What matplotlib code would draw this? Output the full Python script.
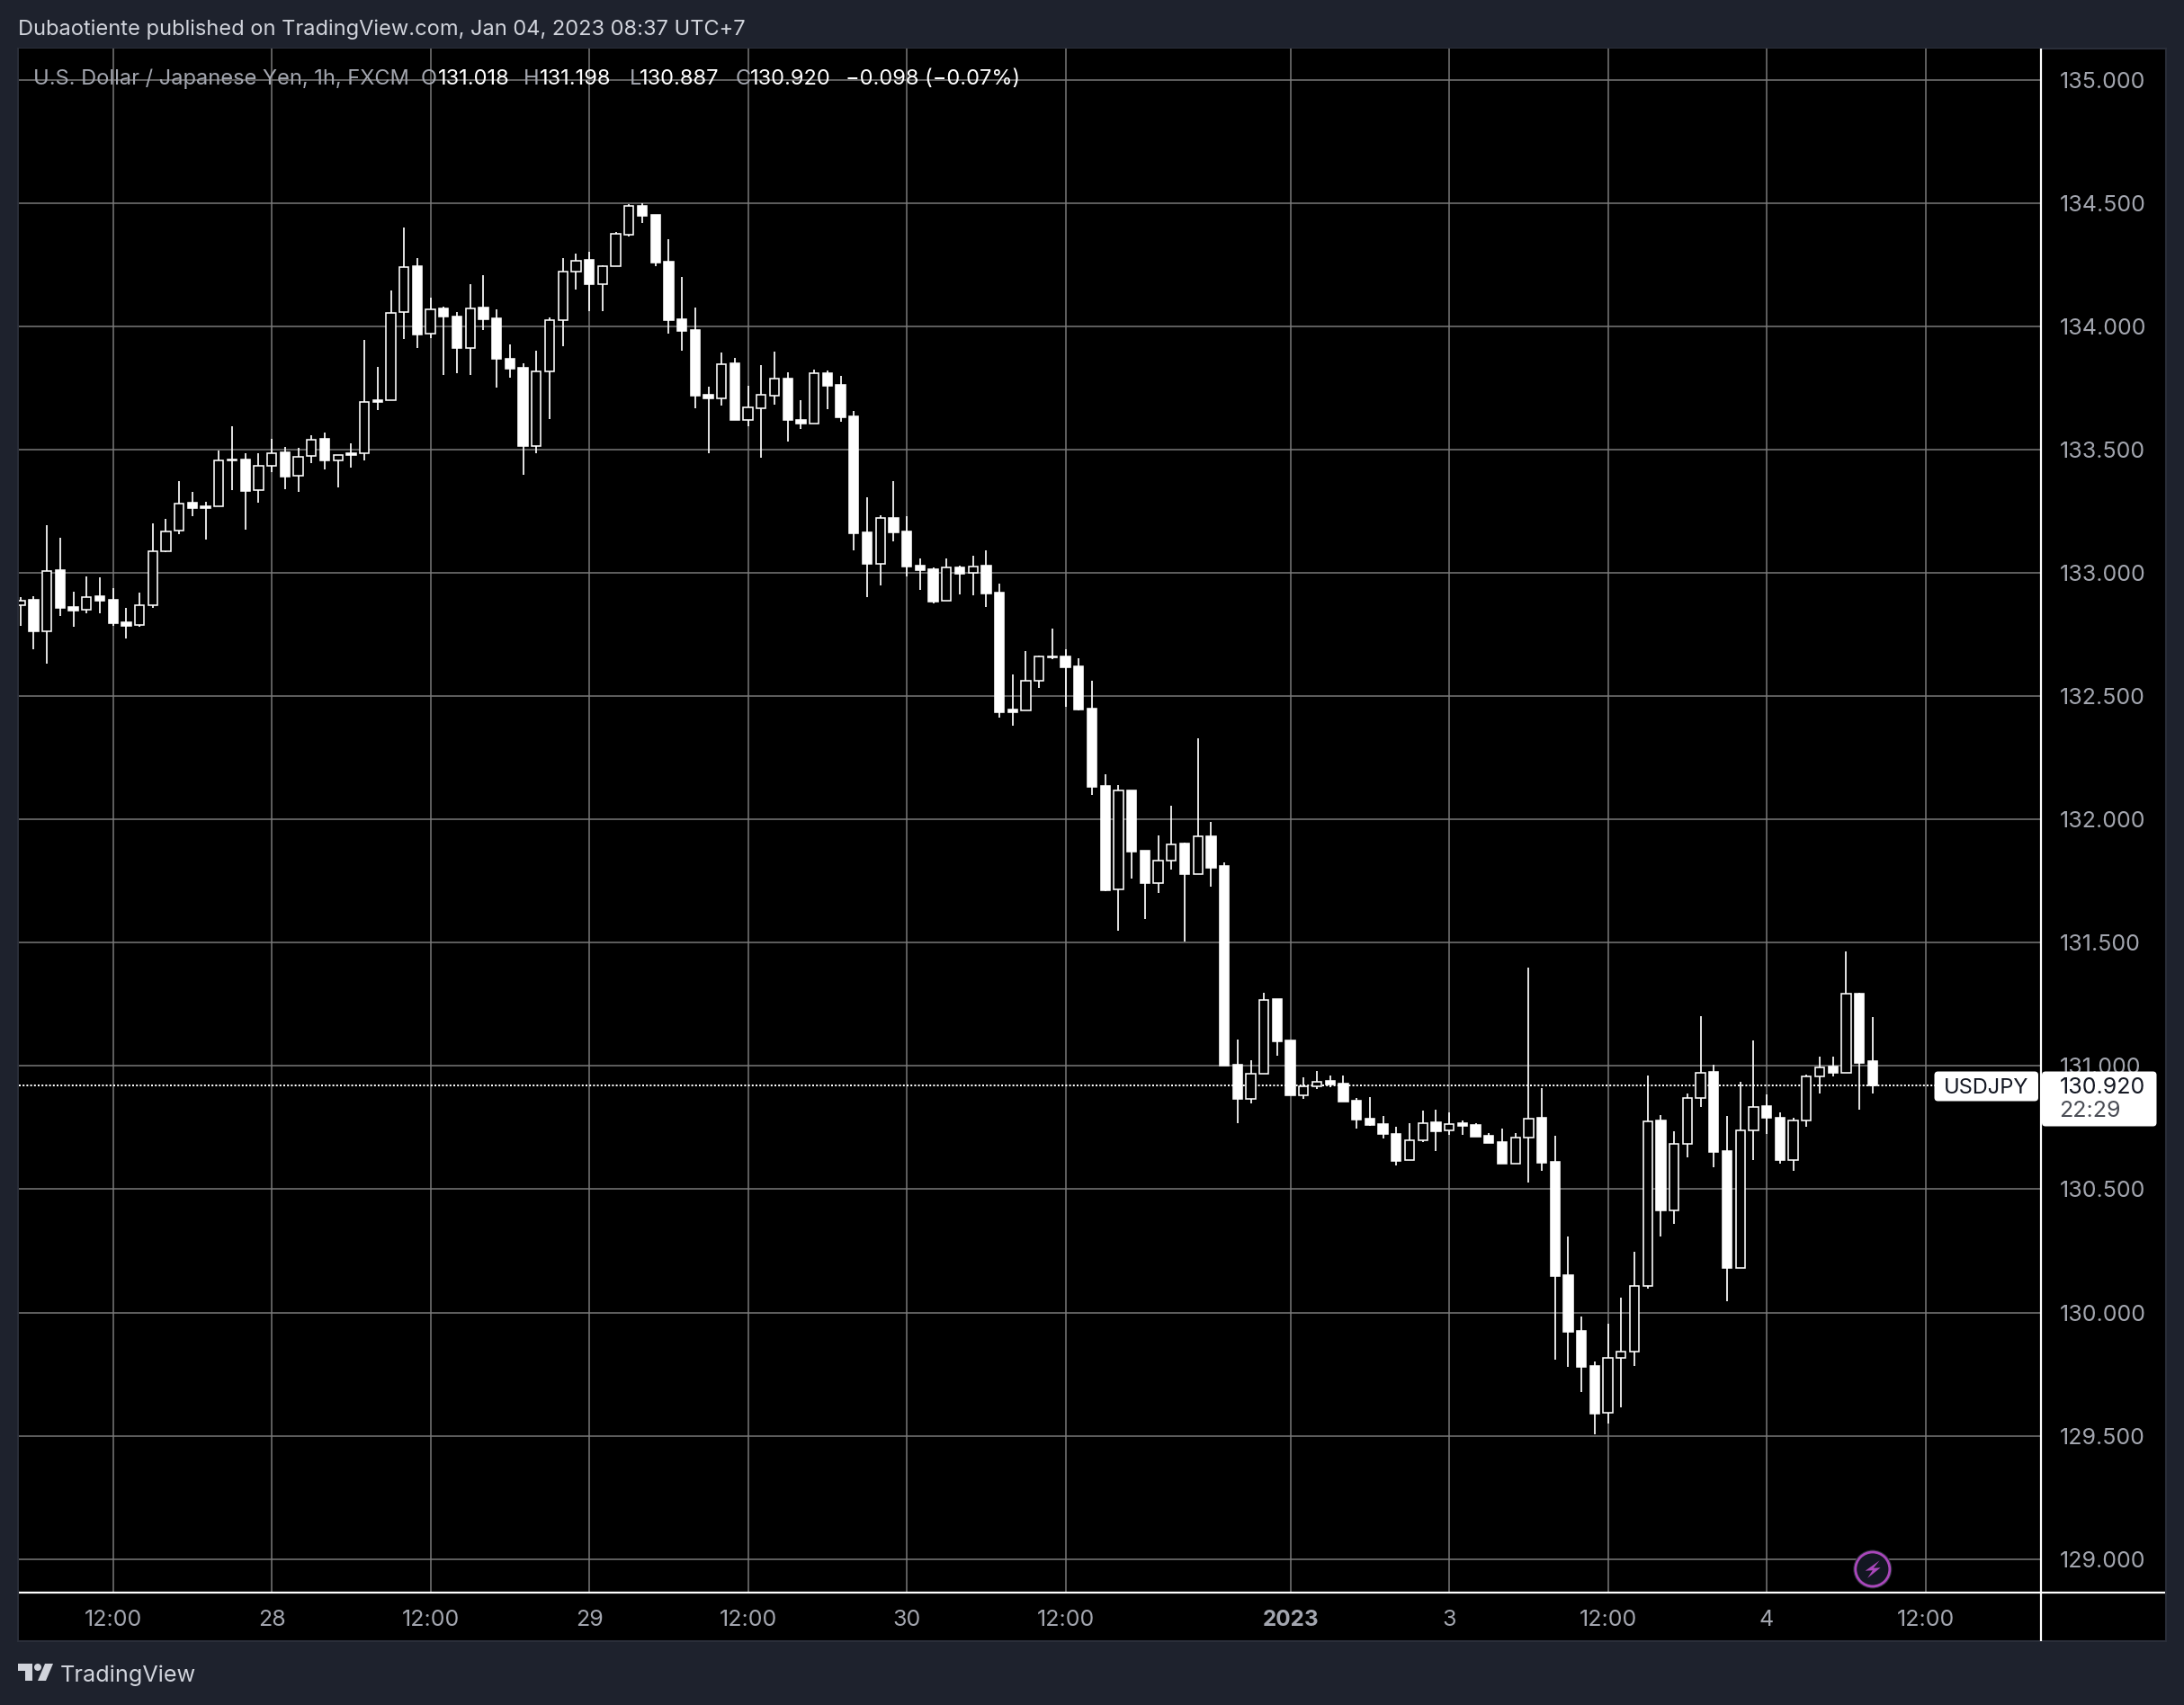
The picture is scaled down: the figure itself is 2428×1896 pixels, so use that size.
#!/usr/bin/env python3
"""USD/JPY 1h candles, dark TradingView snapshot."""
import numpy as np
import matplotlib
matplotlib.use("Agg")
import matplotlib.pyplot as plt
from matplotlib.patches import Circle, FancyBboxPatch, Polygon, Rectangle

plt.rcParams["font.family"] = ["Inter", "DejaVu Sans"]

W, H = 2428, 1896
PAGE = "#1e222d"
BORDER = "#2a2e39"
GRID = "#7b7b7b"
LABEL = "#a3a6af"
HEAD = "#d1d4dc"

opens = [
    132.868, 132.890, 132.761, 133.010, 132.861, 132.849, 132.904, 132.890, 132.798, 132.787,
    132.870, 133.089, 133.170, 133.283, 133.269, 133.269, 133.460, 133.459, 133.334, 133.433,
    133.489, 133.393, 133.473, 133.544, 133.455, 133.485, 133.484, 133.699, 133.699, 134.057,
    134.243, 133.969, 134.073, 134.038, 133.911, 134.075, 134.032, 133.868, 133.832, 133.515,
    133.816, 134.026, 134.222, 134.269, 134.172, 134.242, 134.372, 134.488, 134.452, 134.262,
    134.028, 133.984, 133.722, 133.709, 133.850, 133.618, 133.669, 133.720, 133.787, 133.619,
    133.606, 133.810, 133.763, 133.635, 133.163, 133.037, 133.222, 133.167, 133.029, 133.015,
    132.885, 133.021, 132.998, 133.029, 132.920, 132.446, 132.443, 132.561, 132.662, 132.661,
    132.621, 132.449, 132.136, 131.715, 132.117, 131.873, 131.743, 131.834, 131.902, 131.779,
    131.931, 131.810, 131.004, 130.867, 130.969, 131.271, 131.103, 130.882, 130.916, 130.938,
    130.928, 130.859, 130.786, 130.764, 130.724, 130.620, 130.700, 130.771, 130.737, 130.766,
    130.759, 130.715, 130.690, 130.605, 130.710, 130.789, 130.611, 130.151, 129.924, 129.782,
    129.592, 129.816, 129.842, 130.109, 130.777, 130.415, 130.685, 130.870, 130.975, 130.654,
    130.181, 130.740, 130.836, 130.789, 130.618, 130.779, 130.958, 130.996, 130.973, 131.294,
    131.018,
]
closes = [
    132.887, 132.761, 133.008, 132.858, 132.848, 132.903, 132.888, 132.797, 132.786, 132.870,
    133.089, 133.169, 133.282, 133.264, 133.264, 133.456, 133.454, 133.333, 133.432, 133.486,
    133.391, 133.472, 133.541, 133.454, 133.479, 133.479, 133.694, 133.694, 134.054, 134.241,
    133.967, 134.070, 134.038, 133.910, 134.073, 134.030, 133.866, 133.829, 133.515, 133.815,
    134.026, 134.222, 134.267, 134.170, 134.242, 134.374, 134.487, 134.449, 134.258, 134.025,
    133.982, 133.720, 133.708, 133.847, 133.618, 133.670, 133.721, 133.786, 133.618, 133.605,
    133.808, 133.759, 133.631, 133.161, 133.036, 133.221, 133.163, 133.025, 133.011, 132.883,
    133.020, 132.997, 133.027, 132.916, 132.436, 132.436, 132.561, 132.660, 132.657, 132.618,
    132.446, 132.133, 131.713, 132.116, 131.869, 131.742, 131.834, 131.900, 131.778, 131.930,
    131.804, 131.001, 130.866, 130.970, 131.268, 131.099, 130.880, 130.916, 130.936, 130.925,
    130.855, 130.782, 130.760, 130.724, 130.615, 130.699, 130.767, 130.736, 130.764, 130.758,
    130.713, 130.687, 130.604, 130.708, 130.786, 130.608, 130.147, 129.920, 129.779, 129.590,
    129.816, 129.842, 130.108, 130.775, 130.413, 130.684, 130.870, 130.973, 130.650, 130.179,
    130.738, 130.833, 130.789, 130.617, 130.779, 130.957, 130.994, 130.971, 131.292, 131.013,
    130.920,
]
highs = [
    132.900, 132.904, 133.192, 133.142, 132.922, 132.987, 132.983, 132.937, 132.856, 132.918,
    133.202, 133.217, 133.370, 133.327, 133.287, 133.494, 133.593, 133.484, 133.484, 133.545,
    133.509, 133.506, 133.557, 133.567, 133.479, 133.524, 133.945, 133.836, 134.144, 134.401,
    134.276, 134.116, 134.079, 134.057, 134.170, 134.207, 134.069, 133.925, 133.849, 133.901,
    134.035, 134.276, 134.294, 134.302, 134.247, 134.383, 134.495, 134.499, 134.452, 134.353,
    134.199, 134.075, 133.755, 133.893, 133.871, 133.759, 133.842, 133.897, 133.812, 133.700,
    133.823, 133.819, 133.799, 133.656, 133.307, 133.235, 133.372, 133.230, 133.058, 133.021,
    133.058, 133.028, 133.070, 133.090, 132.956, 132.588, 132.683, 132.664, 132.773, 132.690,
    132.653, 132.562, 132.183, 132.139, 132.117, 131.873, 131.935, 132.055, 131.906, 132.329,
    131.990, 131.825, 131.107, 131.023, 131.296, 131.271, 131.103, 130.953, 130.979, 130.961,
    130.961, 130.870, 130.873, 130.797, 130.753, 130.769, 130.818, 130.822, 130.810, 130.777,
    130.767, 130.727, 130.745, 130.727, 131.397, 130.909, 130.715, 130.307, 129.983, 129.800,
    129.954, 130.059, 130.248, 130.960, 130.799, 130.734, 130.887, 131.201, 131.004, 130.796,
    130.934, 131.103, 130.884, 130.811, 130.788, 130.964, 131.037, 131.037, 131.465, 131.298,
    131.198,
]
lows = [
    132.786, 132.690, 132.633, 132.826, 132.782, 132.836, 132.836, 132.786, 132.735, 132.782,
    132.858, 133.083, 133.158, 133.230, 133.136, 133.269, 133.337, 133.176, 133.286, 133.410,
    133.340, 133.329, 133.446, 133.420, 133.347, 133.428, 133.454, 133.661, 133.699, 133.949,
    133.912, 133.953, 133.803, 133.811, 133.803, 133.985, 133.752, 133.793, 133.399, 133.486,
    133.625, 133.920, 134.147, 134.062, 134.062, 134.242, 134.362, 134.420, 134.245, 133.971,
    133.902, 133.669, 133.486, 133.679, 133.618, 133.596, 133.468, 133.683, 133.533, 133.584,
    133.606, 133.665, 133.614, 133.092, 132.903, 132.950, 133.128, 132.985, 132.931, 132.877,
    132.885, 132.913, 132.909, 132.862, 132.414, 132.381, 132.443, 132.534, 132.651, 132.458,
    132.442, 132.100, 131.707, 131.550, 131.761, 131.597, 131.703, 131.798, 131.506, 131.779,
    131.728, 131.001, 130.769, 130.849, 130.969, 131.041, 130.880, 130.867, 130.907, 130.915,
    130.855, 130.747, 130.756, 130.707, 130.597, 130.620, 130.691, 130.655, 130.721, 130.721,
    130.713, 130.687, 130.604, 130.605, 130.527, 130.575, 129.809, 129.779, 129.678, 129.506,
    129.550, 129.615, 129.783, 130.097, 130.308, 130.359, 130.630, 130.832, 130.590, 130.046,
    130.181, 130.618, 130.723, 130.603, 130.575, 130.754, 130.888, 130.958, 130.973, 130.822,
    130.887,
]

price_ticks = [129, 129.5, 130, 130.5, 131, 131.5, 132, 132.5, 133, 133.5, 134, 134.5, 135]
time_ticks = [7, 19, 31, 43, 55, 67, 79, 96, 108, 120, 132, 144]
time_labels = ["12:00", "28", "12:00", "29", "12:00", "30", "12:00", "2023", "3", "12:00", "4", "12:00"]

symbol_name = "USDJPY"
countdown = "22:29"
header = "Dubaotiente published on TradingView.com, Jan 04, 2023 08:37 UTC+7"
title = "U.S. Dollar / Japanese Yen, 1h, FXCM"


def px_box(x0, y0, x1, y1):
    return [x0 / W, 1 - y1 / H, (x1 - x0) / W, (y1 - y0) / H]


def draw_candles(ax):
    o, c = np.array(opens), np.array(closes)
    x = np.arange(len(o))
    up = c >= o
    lw = 1.15
    ax.vlines(x, lows, highs, color="white", lw=1.25, zorder=3)
    bottom = np.minimum(o, c)
    height = np.abs(c - o)
    ax.bar(x[up], height[up], bottom=bottom[up], width=0.7, facecolor="black",
           edgecolor="white", linewidth=lw, zorder=4)
    ax.bar(x[~up], height[~up], bottom=bottom[~up], width=0.7, facecolor="white",
           edgecolor="white", linewidth=lw, zorder=4)


def draw_chart(ax):
    ax.set_facecolor("black")
    ax.set_xlim(-0.15, 152.73)
    ax.set_ylim(128.864, 135.126)
    ax.yaxis.tick_right()
    ax.set_yticks(price_ticks)
    ax.set_yticklabels([f"{p:.3f}" for p in price_ticks])
    ax.set_xticks(time_ticks)
    ax.set_xticklabels(time_labels)
    ax.tick_params(axis="y", length=0, pad=15, labelsize=18, labelcolor=LABEL)
    ax.tick_params(axis="x", length=0, pad=13.5, labelsize=18, labelcolor=LABEL)
    for lab, txt in zip(ax.get_xticklabels(), time_labels):
        if txt == "2023":
            lab.set_fontweight("bold")
            lab.set_fontsize(17.5)
    ax.grid(True, color=GRID, lw=1.08, zorder=1)
    ax.set_axisbelow(True)
    for s in ax.spines.values():
        s.set_visible(False)
    ax.axhline(closes[-1], color="white", lw=1.44, ls=(0, (1, 1.1)), zorder=2)
    draw_candles(ax)


def draw_overlay(fg):
    fg.set_xlim(0, W)
    fg.set_ylim(H, 0)
    fg.axis("off")
    fg.patch.set_alpha(0)

    # axis rules
    fg.plot([20.5, 2407], [1771, 1771], color="white", lw=1.6, solid_capstyle="butt")
    fg.plot([2269, 2269], [54, 1825], color="white", lw=1.6, solid_capstyle="butt")

    # header and legend
    fg.text(20, 33, header, color=HEAD, fontsize=17, va="center")
    fg.text(37, 88, title, color=LABEL, fontsize=17, va="center")
    for letter, lx, val, vx in [("O", 468, opens[-1], 487), ("H", 582, highs[-1], 600),
                                ("L", 700, lows[-1], 711), ("C", 818, closes[-1], 834)]:
        fg.text(lx, 88, letter, color=LABEL, fontsize=17, va="center")
        fg.text(vx, 88, f"{val:.3f}", color="white", fontsize=17, va="center")
    chg = closes[-1] - opens[-1]
    fg.text(940, 88, f"\u2212{abs(chg):.3f} (\u2212{abs(chg) / opens[-1] * 100:.2f}%)",
            color="white", fontsize=17, va="center")

    # last price tags
    fg.add_patch(FancyBboxPatch((2150.5, 1191.5), 115.5, 33, boxstyle="round,pad=0,rounding_size=4",
                                fc="white", ec="none"))
    fg.add_patch(FancyBboxPatch((2270, 1191.5), 127.5, 61, boxstyle="round,pad=0,rounding_size=4",
                                fc="white", ec="none"))
    fg.text(2208, 1209.5, symbol_name, color="#131722", fontsize=17, ha="center", va="center")
    fg.text(2290, 1209.5, f"{closes[-1]:.3f}", color="#131722", fontsize=18, va="center")
    fg.text(2289, 1236, countdown, color="#4a4d55", fontsize=18, va="center")

    # replay badge
    fg.add_patch(Circle((2081.8, 1745), 21.5, fc=BORDER, ec="none"))
    fg.add_patch(Circle((2081.8, 1745), 19, fc="#131722", ec="#ab47bc", lw=2))
    fg.add_patch(Polygon([(2089.6, 1735.3), (2073.7, 1746.7), (2081.8, 1746.3), (2076.1, 1755),
                          (2090.6, 1743.3), (2082.8, 1743.7)], closed=True, fc="#ab47bc", ec="none"))

    # logo
    logo = "#d1d4dc"
    fg.add_patch(Polygon([(20, 1850), (36, 1850), (36, 1869), (28, 1869), (28, 1858), (20, 1858)],
                         closed=True, fc=logo, ec="none"))
    fg.add_patch(Circle((42, 1854), 4, fc=logo, ec="none"))
    fg.add_patch(Polygon([(50, 1850), (59, 1850), (51, 1869), (42, 1869)], closed=True, fc=logo, ec="none"))
    fg.text(67, 1863, "TradingView", color=logo, fontsize=18.2, va="center")


def main():
    fig = plt.figure(figsize=(W / 100, H / 100), dpi=100, facecolor=PAGE)

    bg = fig.add_axes([0, 0, 1, 1], zorder=0)
    bg.set_xlim(0, W)
    bg.set_ylim(H, 0)
    bg.axis("off")
    bg.add_patch(Rectangle((20, 53.5), 2387.5, 1771.5, fc="black", ec=BORDER, lw=1.5))

    ax = fig.add_axes(px_box(20.5, 54, 2269, 1771), zorder=1)
    draw_chart(ax)

    fg = fig.add_axes([0, 0, 1, 1], zorder=2)
    draw_overlay(fg)

    fig.savefig("out.png", dpi=100, facecolor=PAGE)


if __name__ == "__main__":
    main()
